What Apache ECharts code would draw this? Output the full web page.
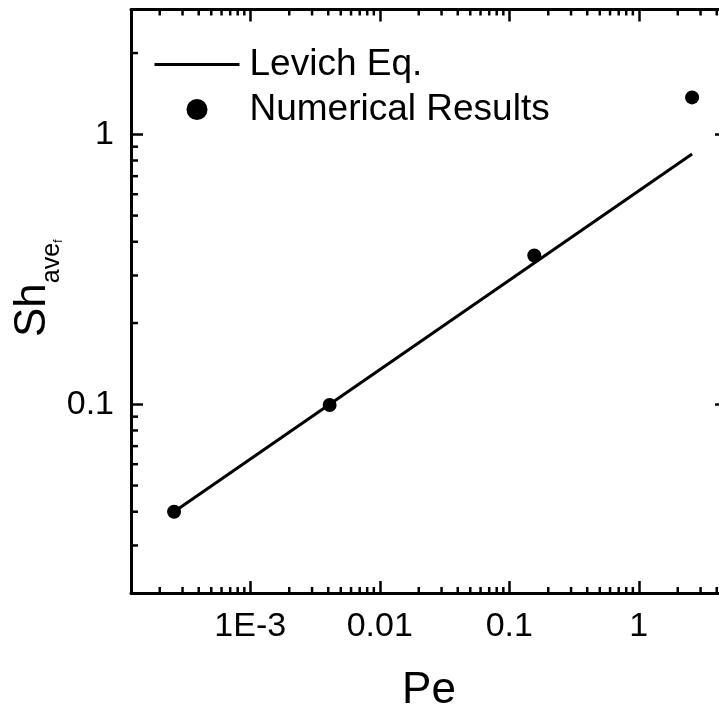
<!DOCTYPE html>
<html>
<head>
<meta charset="utf-8">
<script src="https://cdn.jsdelivr.net/npm/echarts@6/dist/echarts.min.js"></script>
<style>
  html, body { margin: 0; padding: 0; background: #fff; }
  #chart { width: 719px; height: 714px; }
</style>
</head>
<body>
<div id="chart"></div>
<script>
// numerical results
const numPe = [2.58e-4, 4.1e-3, 0.156, 2.58]
const numSh = [0.040, 0.0994, 0.356, 1.37]
// Levich equation line (end points)
const levichPe = [2.58e-4, 2.58]
const levichSh = [0.040, 0.845]

// axis ranges
const xMin = 1.2e-4
const xMax = 4.8
const yMin = 0.02
const yMax = 2.9

// tick labels by decade exponent
const xTickExp = [-3, -2, -1, 0]
const xTickLabels = ['1E-3', '0.01', '0.1', '1']
const yTickExp = [-1, 0]
const yTickLabels = ['0.1', '1']

// minor tick positions
const xMinor = [
  2e-4, 3e-4, 4e-4, 5e-4, 6e-4, 7e-4, 8e-4, 9e-4,
  2e-3, 3e-3, 4e-3, 5e-3, 6e-3, 7e-3, 8e-3, 9e-3,
  0.02, 0.03, 0.04, 0.05, 0.06, 0.07, 0.08, 0.09,
  0.2, 0.3, 0.4, 0.5, 0.6, 0.7, 0.8, 0.9,
  2, 3, 4
]
const yMinor = [
  0.03, 0.04, 0.05, 0.06, 0.07, 0.08, 0.09,
  0.2, 0.3, 0.4, 0.5, 0.6, 0.7, 0.8, 0.9,
  2
]

const font = 'Liberation Sans, Arial, sans-serif'

function labelFor(exps, labels) {
  return function (v) {
    const i = exps.indexOf(Math.round(Math.log10(v)))
    return i < 0 ? '' : labels[i]
  }
}

function tickLine(x1, y1, x2, y2) {
  return {
    type: 'line',
    shape: { x1: x1, y1: y1, x2: x2, y2: y2 },
    style: { stroke: '#000', lineWidth: 2.5 }
  }
}

// minor ticks on both sides of the frame
function renderXMinor(params, api) {
  const cs = params.coordSys
  const px = api.coord([api.value(0), yMin])[0]
  return {
    type: 'group',
    children: [
      tickLine(px, cs.y + cs.height, px, cs.y + cs.height - 6),
      tickLine(px, cs.y, px, cs.y + 6)
    ]
  }
}
function renderYMinor(params, api) {
  const cs = params.coordSys
  const py = api.coord([xMin, api.value(1)])[1]
  return {
    type: 'group',
    children: [
      tickLine(cs.x, py, cs.x + 7, py),
      tickLine(cs.x + cs.width, py, cs.x + cs.width - 7, py)
    ]
  }
}

const axisLine = { show: true, onZero: false, lineStyle: { color: '#000', width: 3 } }
const majorTick = { show: true, inside: true, length: 12, lineStyle: { color: '#000', width: 2.5 } }

const chart = echarts.init(document.getElementById('chart'))
chart.setOption({
  backgroundColor: '#fff',
  animation: false,
  grid: {
    left: 131,
    top: 9.5,
    width: 596,
    height: 583.5,
    containLabel: false,
    outerBoundsMode: 'none'
  },
  legend: {
    orient: 'vertical',
    left: 153,
    top: 46,
    padding: 0,
    itemWidth: 85,
    itemHeight: 21,
    itemGap: 8,
    textStyle: { fontSize: 37, lineHeight: 34, fontFamily: font, color: '#000', padding: [0, 0, 0, 5] },
    data: [
      { name: 'Levich Eq.', itemStyle: { opacity: 0 }, lineStyle: { width: 3 } },
      { name: 'Numerical Results', icon: 'circle' }
    ]
  },
  xAxis: [
    {
      type: 'log',
      min: xMin,
      max: xMax,
      position: 'bottom',
      name: 'Pe',
      nameLocation: 'middle',
      nameGap: 76,
      nameTextStyle: { fontSize: 44, fontFamily: font, color: '#000' },
      axisLine: axisLine,
      axisTick: majorTick,
      axisLabel: {
        fontSize: 34,
        fontFamily: font,
        color: '#000',
        margin: 17,
        showMinLabel: false,
        showMaxLabel: false,
        formatter: labelFor(xTickExp, xTickLabels)
      },
      splitLine: { show: false }
    },
    {
      type: 'log',
      min: xMin,
      max: xMax,
      position: 'top',
      axisLine: axisLine,
      axisTick: majorTick,
      axisLabel: { show: false },
      splitLine: { show: false }
    }
  ],
  yAxis: [
    {
      type: 'log',
      min: yMin,
      max: yMax,
      position: 'left',
      name: '{a|Sh}{b|ave}{c|f}',
      nameLocation: 'middle',
      nameRotate: 90,
      nameGap: 66,
      nameMoveOverlap: false,
      nameTextStyle: {
        color: '#000',
        fontFamily: font,
        padding: [0, 0, 0, 26],
        rich: {
          a: { fontSize: 44, lineHeight: 64, fontFamily: font, color: '#000', verticalAlign: 'middle' },
          b: { fontSize: 25, lineHeight: 25, fontFamily: font, color: '#000', verticalAlign: 'bottom' },
          c: { fontSize: 12, lineHeight: 12, fontFamily: font, color: '#000', verticalAlign: 'bottom' }
        }
      },
      axisLine: axisLine,
      axisTick: majorTick,
      axisLabel: {
        fontSize: 34,
        fontFamily: font,
        color: '#000',
        margin: 17,
        showMinLabel: false,
        showMaxLabel: false,
        formatter: labelFor(yTickExp, yTickLabels)
      },
      splitLine: { show: false }
    },
    {
      type: 'log',
      min: yMin,
      max: yMax,
      position: 'right',
      axisLine: axisLine,
      axisTick: majorTick,
      axisLabel: { show: false },
      splitLine: { show: false }
    }
  ],
  series: [
    {
      type: 'custom',
      silent: true,
      clip: false,
      renderItem: renderXMinor,
      data: xMinor.map(v => [v, yMin])
    },
    {
      type: 'custom',
      silent: true,
      clip: false,
      renderItem: renderYMinor,
      data: yMinor.map(v => [xMin, v])
    },
    {
      name: 'Levich Eq.',
      type: 'line',
      symbol: 'none',
      lineStyle: { color: '#000', width: 3 },
      itemStyle: { color: '#000' },
      data: levichPe.map((p, i) => [p, levichSh[i]])
    },
    {
      name: 'Numerical Results',
      type: 'scatter',
      symbol: 'circle',
      symbolSize: 14,
      itemStyle: { color: '#000', opacity: 1 },
      data: numPe.map((p, i) => [p, numSh[i]])
    }
  ]
})
</script>
</body>
</html>
